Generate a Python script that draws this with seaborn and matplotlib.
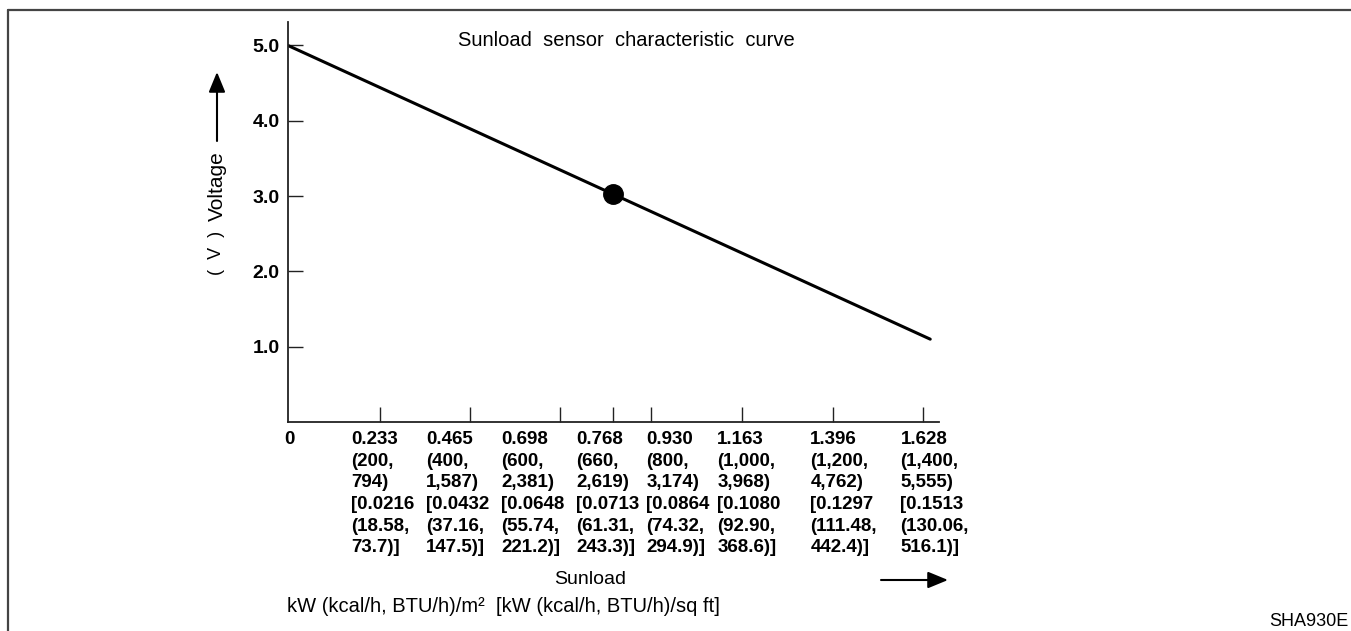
import numpy as np
import matplotlib
matplotlib.use("Agg")
import matplotlib.pyplot as plt
import seaborn as sns
from matplotlib.lines import Line2D
from matplotlib.patches import FancyArrowPatch

# data
sunload = [0.0, 1.645]          # kW/m2, ends of the curve
voltage = [5.0, 1.10]           # V
point_sunload = [0.768]
point_voltage = [3.03]

tick_vals = [0.233, 0.465, 0.698, 0.768, 0.930, 1.163, 1.396, 1.628]
tick_labels = [
    "0.233\n(200,\n794)\n[0.0216\n(18.58,\n73.7)]",
    "0.465\n(400,\n1,587)\n[0.0432\n(37.16,\n147.5)]",
    "0.698\n(600,\n2,381)\n[0.0648\n(55.74,\n221.2)]",
    "0.768\n(660,\n2,619)\n[0.0713\n(61.31,\n243.3)]",
    "0.930\n(800,\n3,174)\n[0.0864\n(74.32,\n294.9)]",
    "1.163\n(1,000,\n3,968)\n[0.1080\n(92.90,\n368.6)]",
    "1.396\n(1,200,\n4,762)\n[0.1297\n(111.48,\n442.4)]",
    "1.628\n(1,400,\n5,555)\n[0.1513\n(130.06,\n516.1)]",
]
y_ticks = [1.0, 2.0, 3.0, 4.0, 5.0]

# the drawing spaces the ticks evenly, except 0.768 which is squeezed in
scale_vals = [-0.233, 0.0, 0.233, 0.465, 0.698, 0.768, 0.930, 1.163, 1.396, 1.628, 1.861]
scale_pos = [-1.0, 0.0, 1.01, 2.0, 2.99, 3.57, 3.99, 4.99, 5.99, 6.98, 8.0]
# label left edges relative to their ticks (pixels)
label_dx = [-29, -44, -59, -37, -5, -25, -23, -23]

sns.set_style("ticks")
plt.rcParams["font.family"] = ["Liberation Sans", "DejaVu Sans"]
plt.rcParams["text.color"] = "black"
plt.rcParams["xtick.color"] = "black"
plt.rcParams["ytick.color"] = "black"

W, H = 1351, 631


def fx(px):
    return px / W


def fy(py):
    return 1 - py / H


fig = plt.figure(figsize=(13.51, 6.31), dpi=100)
ax = fig.add_axes([fx(288), 209 / H, 651 / W, 400 / H])

ax.set_xscale("function", functions=(lambda x: np.interp(x, scale_vals, scale_pos),
                                     lambda p: np.interp(p, scale_pos, scale_vals)))

sns.lineplot(x=sunload, y=voltage, ax=ax, color="black", linewidth=2.2)
ax.plot(point_sunload, point_voltage, "o", color="black", markersize=14)

ax.set_xlim(0, 1.667)
ax.set_ylim(0, 5.312)

sns.despine(ax=ax)
for s in ["left", "bottom"]:
    ax.spines[s].set_color("#222222")
    ax.spines[s].set_linewidth(1.3)

ax.set_xticks(tick_vals)
ax.set_xticklabels([])
ax.set_yticks(y_ticks)
ax.set_yticklabels([f"{v:.1f}" for v in y_ticks], fontsize=14, fontweight="bold")
ax.tick_params(axis="both", direction="in", length=10.5, width=1.0, color="#222222")
ax.tick_params(axis="y", pad=6)
ax.set_xlabel("")
ax.set_ylabel("")

for v, lab, dx in zip(tick_vals, tick_labels, label_dx):
    ax.annotate(lab, xy=(v, 0), xycoords=("data", "axes fraction"),
                xytext=(dx, -9), textcoords="offset pixels",
                ha="left", va="top", fontsize=13.5, fontweight="bold",
                linespacing=1.36)
ax.annotate("0", xy=(0, 0), xycoords=("data", "axes fraction"),
            xytext=(1, -9), textcoords="offset pixels",
            ha="center", va="top", fontsize=13.5, fontweight="bold")

# title
fig.text(fx(458), fy(41), "Sunload  sensor  characteristic  curve",
         ha="left", va="center", fontsize=14.5)

arrow_style = "-|>,head_length=0.68,head_width=0.28"

# y axis label with arrow
fig.text(fx(217), fy(186), "Voltage", rotation=90,
         ha="center", va="center", fontsize=15)
fig.text(fx(217), fy(253), "(  V  )", rotation=90,
         ha="center", va="center", fontsize=13)
fig.add_artist(FancyArrowPatch(
    (fx(217), fy(141)), (fx(217), fy(72)), transform=fig.transFigure,
    arrowstyle=arrow_style, mutation_scale=18, color="black",
    linewidth=1.5, shrinkA=0, shrinkB=0))

# x axis label with arrow
fig.text(fx(590), fy(579), "Sunload", ha="center", va="center", fontsize=14)
fig.text(fx(287), fy(607), "kW (kcal/h, BTU/h)/m²  [kW (kcal/h, BTU/h)/sq ft]",
         ha="left", va="center", fontsize=14.5)
fig.add_artist(FancyArrowPatch(
    (fx(881), fy(580)), (fx(948), fy(580)), transform=fig.transFigure,
    arrowstyle=arrow_style, mutation_scale=18, color="black",
    linewidth=1.5, shrinkA=0, shrinkB=0))

fig.text(fx(1348), fy(621), "SHA930E", ha="right", va="center", fontsize=13)

# frame lines
fig.add_artist(Line2D([fx(8), 1], [fy(9.5)] * 2, transform=fig.transFigure,
                      color="#444444", linewidth=1.6))
fig.add_artist(Line2D([fx(8)] * 2, [0, fy(9.5)], transform=fig.transFigure,
                      color="#444444", linewidth=1.6))

fig.savefig("out.png", dpi=100)
